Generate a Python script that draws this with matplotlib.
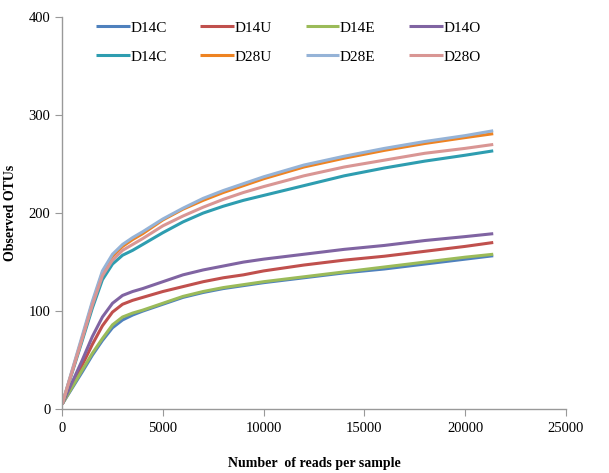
import matplotlib
matplotlib.use("Agg")
import matplotlib.pyplot as plt

reads = [0, 1000, 1500, 2000, 2500, 3000, 3500, 4000, 5000, 6000, 7000, 8000, 9000, 10000,
         12000, 14000, 16000, 18000, 20000, 21400]

d14c = [5, 38, 55, 70, 83, 91, 96, 100, 107, 114, 119, 123, 126, 129, 134, 139, 143, 148, 153, 156.5]
d14u = [5, 45, 66, 85, 99, 107, 111, 114, 120, 125, 130, 134, 137, 141, 147, 152, 156, 161, 166, 170]
d14e = [5, 40, 57, 72, 86, 94, 98, 101, 108, 115, 120, 124, 127, 130, 135, 140, 145, 150, 155, 158]
d14o = [5, 50, 74, 94, 108, 116, 120, 123, 130, 137, 142, 146, 150, 153, 158, 163, 167, 172, 176, 179]
d14c2 = [5, 70, 103, 132, 148, 157, 162, 168, 180, 191, 200, 207, 213, 218, 228, 238, 246, 253, 259, 263.5]
d28u = [5, 73, 108, 139, 156, 166, 173, 179, 193, 204, 213, 221, 228, 235, 247, 256, 264, 271, 277, 281]
d28e = [5, 75, 110, 141, 158, 168, 175, 181, 194, 205, 215, 223, 230, 237, 249, 258, 266, 273, 279, 284]
d28o = [5, 72, 106, 136, 152, 162, 168, 174, 187, 197, 206, 214, 221, 227, 238, 247, 254, 261, 266, 270]

labels = ["D14C", "D14U", "D14E", "D14O", "D14C", "D28U", "D28E", "D28O"]
series = [d14c, d14u, d14e, d14o, d14c2, d28u, d28e, d28o]
colors = ["#4F81BD", "#C0504D", "#9BBB59", "#8064A2", "#2E9DB0", "#EE8322", "#95B3D7", "#D99694"]

plt.rcParams['font.family'] = ['Liberation Serif', 'DejaVu Serif']

fig = plt.figure(figsize=(6.09, 4.73), dpi=100)
ax = fig.add_axes([0.102, 0.135, 0.827, 0.829])

handles = []
for ys, lab, c in zip(series, labels, colors):
    h, = ax.plot(reads, ys, color=c, lw=2.2, label=lab, solid_capstyle='butt',
                 solid_joinstyle='round')
    handles.append(h)

ax.set_xlim(0, 25000)
ax.set_ylim(0, 400)
ax.set_xticks([0, 5000, 10000, 15000, 20000, 25000])
ax.set_yticks([0, 100, 200, 300, 400])
for s in ['top', 'right']:
    ax.spines[s].set_visible(False)
for s in ['left', 'bottom']:
    ax.spines[s].set_color('#999999')
    ax.spines[s].set_linewidth(1.0)
ax.tick_params(axis='both', direction='out', length=5, color='#999999', labelsize=10.5)
ax.tick_params(axis='x', pad=4)

ax.set_xlabel("Number  of reads per sample", fontsize=10, fontweight='bold', labelpad=16)
ax.set_ylabel("Observed OTUs", fontsize=10, fontweight='bold', labelpad=8)

order = [0, 4, 1, 5, 2, 6, 3, 7]
ax.legend([handles[i] for i in order], [labels[i] for i in order], ncol=4,
          loc='upper left', bbox_to_anchor=(0.04, 1.025), frameon=False,
          fontsize=11, handlelength=2.2, handletextpad=0.05, columnspacing=2.2,
          labelspacing=1.0)

fig.savefig("out.png", dpi=100)
